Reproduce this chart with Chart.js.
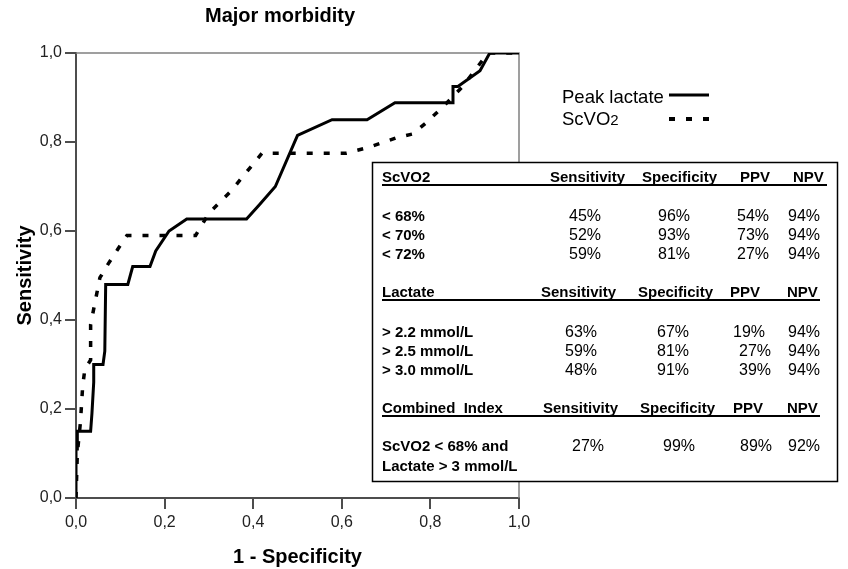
<!DOCTYPE html>
<html>
<head>
<meta charset="utf-8">
<script src="https://cdn.jsdelivr.net/npm/chart.js@4"></script>
<style>
html,body{margin:0;padding:0;background:#fff;}
#wrap{position:relative;width:848px;height:569px;}
</style>
</head>
<body>
<div id="wrap"><canvas id="c" width="848" height="569"></canvas></div>
<script>
// ---- data ----
const titleText = 'Major morbidity';
const xTitle = '1 - Specificity';
const yTitle = 'Sensitivity';
const tickLabels = ['0,0', '0,2', '0,4', '0,6', '0,8', '1,0'];

const lactateFPR = [0, 0, 0.003, 0.003, 0.033, 0.036, 0.04, 0.04, 0.061, 0.065, 0.067, 0.117, 0.128, 0.167, 0.18, 0.21, 0.25, 0.385, 0.415, 0.45, 0.50, 0.578, 0.657, 0.72, 0.851, 0.851, 0.862, 0.912, 0.934, 1.0];
const lactateTPR = [0, 0.11, 0.11, 0.15, 0.15, 0.19, 0.26, 0.30, 0.30, 0.33, 0.48, 0.48, 0.52, 0.52, 0.555, 0.60, 0.627, 0.627, 0.66, 0.70, 0.815, 0.85, 0.85, 0.888, 0.888, 0.925, 0.925, 0.96, 1.0, 1.0];

const scvo2FPR = [0, 0.003, 0.01, 0.015, 0.02, 0.033, 0.033, 0.039, 0.047, 0.054, 0.072, 0.095, 0.115, 0.27, 0.30, 0.35, 0.42, 0.61, 0.657, 0.725, 0.76, 0.79, 0.826, 0.849, 0.874, 0.93, 1.0];
const scvo2TPR = [0, 0.10, 0.17, 0.25, 0.29, 0.31, 0.39, 0.42, 0.46, 0.495, 0.525, 0.56, 0.59, 0.59, 0.64, 0.69, 0.775, 0.775, 0.787, 0.81, 0.818, 0.843, 0.877, 0.90, 0.926, 1.0, 1.0];

const seriesNames = ['Peak lactate', 'ScVO2'];

const tableHeaders = ['Sensitivity', 'Specificity', 'PPV', 'NPV'];
const scvo2Labels = ['< 68%', '< 70%', '< 72%'];
const scvo2Sens = ['45%', '52%', '59%'];
const scvo2Spec = ['96%', '93%', '81%'];
const scvo2PPV = ['54%', '73%', '27%'];
const scvo2NPV = ['94%', '94%', '94%'];
const lactLabels = ['> 2.2 mmol/L', '> 2.5 mmol/L', '> 3.0 mmol/L'];
const lactSens = ['63%', '59%', '48%'];
const lactSpec = ['67%', '81%', '91%'];
const lactPPV = ['19%', '27%', '39%'];
const lactNPV = ['94%', '94%', '94%'];
const combLabels = ['ScVO2 < 68% and', 'Lactate > 3 mmol/L'];
const combSens = ['27%'];
const combSpec = ['99%'];
const combPPV = ['89%'];
const combNPV = ['92%'];

// ---- build ----
const toPts = (xs, ys) => xs.map((x, i) => ({x: x, y: ys[i]}));
const FONT = '"Liberation Sans", Arial, sans-serif';

const decor = {
  id: 'decor',
  beforeDatasetsDraw(chart) {
    const {ctx, chartArea: a} = chart;
    ctx.save();
    ctx.strokeStyle = '#808080';
    ctx.lineWidth = 1.5;
    ctx.beginPath();
    ctx.moveTo(a.left, a.top);
    ctx.lineTo(a.right, a.top);
    ctx.lineTo(a.right, a.bottom);
    ctx.stroke();
    ctx.restore();
  },
  afterDraw(chart) {
    const ctx = chart.ctx;
    ctx.save();
    // title
    ctx.fillStyle = '#000';
    ctx.font = 'bold 20px ' + FONT;
    ctx.textAlign = 'center';
    ctx.textBaseline = 'alphabetic';
    ctx.fillText(titleText, 280, 22);

    // legend
    ctx.textAlign = 'left';
    ctx.font = '18.5px ' + FONT;
    ctx.fillText(seriesNames[0], 562, 103);
    ctx.fillText('ScVO', 562, 125);
    const w = ctx.measureText('ScVO').width;
    ctx.font = '15px ' + FONT;
    ctx.fillText('2', 562 + w, 125);
    ctx.strokeStyle = '#000';
    ctx.lineWidth = 3;
    ctx.beginPath(); ctx.moveTo(669, 95); ctx.lineTo(709, 95); ctx.stroke();
    ctx.lineWidth = 4;
    ctx.setLineDash([6, 11]);
    ctx.beginPath(); ctx.moveTo(669, 119); ctx.lineTo(709, 119); ctx.stroke();
    ctx.setLineDash([]);

    // table box
    ctx.fillStyle = '#fff';
    ctx.fillRect(372, 162, 466, 320);
    ctx.strokeStyle = '#000';
    ctx.lineWidth = 1.5;
    ctx.strokeRect(372.5, 162.5, 465, 319);

    ctx.fillStyle = '#000';
    const bold = 'bold 15px ' + FONT;
    const reg = '16px ' + FONT;
    const txt = (s, x, y, f) => { ctx.font = f; ctx.fillText(s, x, y); };
    const uline = (y, x2) => { ctx.fillRect(382, y, x2 - 382, 2); };

    // ScVO2 block
    txt('ScVO2', 382, 182, bold);
    [550, 642, 740, 793].forEach((x, i) => txt(tableHeaders[i], x, 182, bold));
    uline(184, 827);
    [221, 240, 259].forEach((y, r) => {
      txt(scvo2Labels[r], 382, y, bold);
      txt(scvo2Sens[r], 569, y, reg);
      txt(scvo2Spec[r], 658, y, reg);
      txt(scvo2PPV[r], 737, y, reg);
      txt(scvo2NPV[r], 788, y, reg);
    });

    // Lactate block
    txt('Lactate', 382, 297, bold);
    [541, 638, 730, 787].forEach((x, i) => txt(tableHeaders[i], x, 297, bold));
    uline(299, 820);
    const ppvX = [733, 739, 739];
    [337, 356, 375].forEach((y, r) => {
      txt(lactLabels[r], 382, y, bold);
      txt(lactSens[r], 565, y, reg);
      txt(lactSpec[r], 657, y, reg);
      txt(lactPPV[r], ppvX[r], y, reg);
      txt(lactNPV[r], 788, y, reg);
    });

    // Combined block
    txt('Combined  Index', 382, 413, bold);
    [543, 640, 733, 787].forEach((x, i) => txt(tableHeaders[i], x, 413, bold));
    uline(415, 820);
    txt(combLabels[0], 382, 451, bold);
    txt(combLabels[1], 382, 471, bold);
    txt(combSens[0], 572, 451, reg);
    txt(combSpec[0], 663, 451, reg);
    txt(combPPV[0], 740, 451, reg);
    txt(combNPV[0], 788, 451, reg);
    ctx.restore();
  }
};

const axisCommon = (title, isY) => ({
  type: 'linear',
  min: 0, max: 1,
  grid: { display: true, drawOnChartArea: false, drawTicks: true, tickLength: 11, color: '#4d4d4d', lineWidth: 2 },
  border: { display: true, color: '#4d4d4d', width: 2 },
  ticks: {
    stepSize: 0.2,
    padding: isY ? 3 : 4,
    color: '#222',
    font: { family: FONT, size: 16 },
    callback: (v) => tickLabels[Math.round(v * 5)]
  },
  title: {
    display: true, text: title, color: '#000',
    font: { family: FONT, size: 20, weight: 'bold', lineHeight: 1.2 },
    padding: isY ? { top: 13, bottom: 13 } : { top: 0, bottom: 0 }
  }
});

const xAxis = axisCommon(xTitle, false);
xAxis.afterFit = (s) => { s.height = 71; };
const yAxis = axisCommon(yTitle, true);
yAxis.afterFit = (s) => { s.width = 76; };

new Chart(document.getElementById('c'), {
  type: 'scatter',
  data: {
    datasets: [
      { label: seriesNames[0], data: toPts(lactateFPR, lactateTPR), showLine: true, borderColor: '#000', borderWidth: 3, pointRadius: 0, tension: 0, fill: false },
      { label: seriesNames[1], data: toPts(scvo2FPR, scvo2TPR), showLine: true, borderColor: '#000', borderWidth: 3.5, borderDash: [6, 11], pointRadius: 0, tension: 0, fill: false }
    ]
  },
  options: {
    responsive: false,
    animation: false,
    layout: { padding: { top: 53, right: 329, left: 0, bottom: 0 } },
    plugins: { legend: { display: false }, title: { display: false }, tooltip: { enabled: false } },
    scales: { x: xAxis, y: yAxis }
  },
  plugins: [decor]
});
</script>
</body>
</html>
